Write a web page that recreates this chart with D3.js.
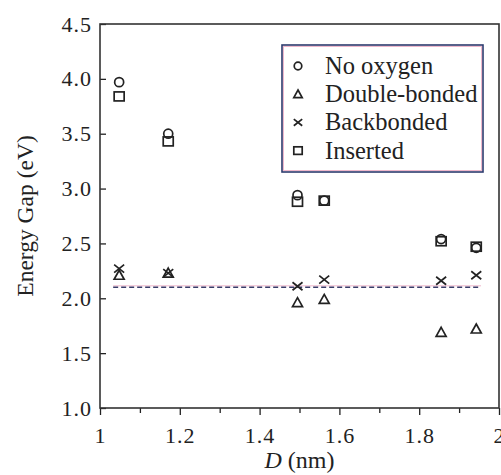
<!DOCTYPE html>
<html>
<head>
<meta charset="utf-8">
<script src="https://cdn.jsdelivr.net/npm/d3@7"></script>
<style>
  html, body { margin: 0; padding: 0; background: #fff; }
  svg { display: block; }
  text { font-family: "Liberation Serif", "Times New Roman", serif; fill: #222; }
</style>
</head>
<body>
<svg id="chart" width="501" height="475"></svg>
<script>
// Wire diameter (nm) of each nanowire
const diameters = [1.048, 1.171, 1.495, 1.562, 1.855, 1.943];
// Energy gap (eV) per oxygen configuration
const noOxygen     = [3.97, 3.50, 2.94, 2.89, 2.54, 2.46];
const doubleBonded = [2.21, 2.23, 1.96, 1.99, 1.69, 1.72];
const backbonded   = [2.27, 2.23, 2.11, 2.17, 2.16, 2.21];
const inserted     = [3.84, 3.43, 2.88, 2.89, 2.52, 2.47];
// Reference gap level (dashed line) and its extent
const refGap = 2.1;
const refSpan = [1.033, 1.955];

const xTicks = [1, 1.2, 1.4, 1.6, 1.8, 2];
const xMinorTicks = [1.1, 1.3, 1.5, 1.7, 1.9];
const yTicks = [1.0, 1.5, 2.0, 2.5, 3.0, 3.5, 4.0, 4.5];
const seriesNames = ["No oxygen", "Double-bonded", "Backbonded", "Inserted"];

const svg = d3.select("#chart");
const plot = { left: 100, right: 499, top: 24, bottom: 408 };

const x = d3.scaleLinear().domain([1, 2]).range([plot.left, plot.right]);
const y = d3.scaleLinear().domain([1, 4.5]).range([plot.bottom, plot.top]);

const ink = "#222";

function styleTickText(g) {
  g.selectAll("text")
    .attr("font-size", 22)
    .attr("font-family", "Liberation Serif")
    .attr("letter-spacing", 1)
    .attr("fill", ink);
}

// Minor x ticks
svg.append("g")
  .attr("transform", `translate(0,${plot.bottom})`)
  .call(d3.axisBottom(x).tickValues(xMinorTicks).tickSize(5).tickFormat(""))
  .call(g => g.select(".domain").remove())
  .call(g => g.selectAll("line").attr("stroke", ink).attr("stroke-width", 1.3));

// Major x axis
svg.append("g")
  .attr("transform", `translate(0,${plot.bottom})`)
  .call(d3.axisBottom(x).tickValues(xTicks).tickSizeInner(7).tickSizeOuter(0).tickPadding(12)
        .tickFormat(d => d3.format("~g")(d)))
  .call(g => g.select(".domain").remove())
  .call(g => g.selectAll("line").attr("stroke", ink).attr("stroke-width", 1.3))
  .call(styleTickText);

// Y axis, ticks pointing inward
svg.append("g")
  .attr("transform", `translate(${plot.left},0)`)
  .call(d3.axisLeft(y).tickValues(yTicks).tickSizeInner(-6).tickSizeOuter(0).tickPadding(8)
        .tickFormat(d3.format(".1f")))
  .call(g => g.select(".domain").remove())
  .call(g => g.selectAll("line").attr("stroke", ink).attr("stroke-width", 1.3))
  .call(styleTickText);

// Plot frame
svg.append("rect")
  .attr("x", plot.left).attr("y", plot.top)
  .attr("width", plot.right - plot.left).attr("height", plot.bottom - plot.top)
  .attr("fill", "none").attr("stroke", "#333").attr("stroke-width", 1.6);

// Reference gap line
svg.append("line")
  .attr("x1", x(refSpan[0])).attr("x2", x(refSpan[1]))
  .attr("y1", y(refGap) - 1.5).attr("y2", y(refGap) - 1.5)
  .attr("stroke", "#efb8cc").attr("stroke-width", 1);
svg.append("line")
  .attr("x1", x(refSpan[0])).attr("x2", x(refSpan[1]))
  .attr("y1", y(refGap)).attr("y2", y(refGap))
  .attr("stroke", "#3a3d6a").attr("stroke-width", 1.5)
  .attr("stroke-dasharray", "5,3");

// Marker drawing helper
function drawMarker(g, kind, cx, cy, s) {
  let el;
  if (kind === "circle") {
    el = g.append("circle").attr("cx", cx).attr("cy", cy).attr("r", s * 0.9);
  } else if (kind === "square") {
    el = g.append("rect").attr("x", cx - s).attr("y", cy - s * 0.9)
      .attr("width", 2 * s).attr("height", 1.8 * s);
  } else if (kind === "triangle") {
    el = g.append("path").attr("d",
      `M${cx},${cy - s}L${cx + s},${cy + s * 0.8}L${cx - s},${cy + s * 0.8}Z`);
  } else {
    el = g.append("path").attr("d",
      `M${cx - s},${cy - s * 0.8}L${cx + s},${cy + s * 0.8}M${cx - s},${cy + s * 0.8}L${cx + s},${cy - s * 0.8}`);
  }
  el.attr("fill", "none").attr("stroke", ink).attr("stroke-width", 1.7);
}

const series = [
  { values: noOxygen, kind: "circle" },
  { values: doubleBonded, kind: "triangle" },
  { values: backbonded, kind: "cross" },
  { values: inserted, kind: "square" }
];

const marks = svg.append("g");
series.forEach(s => {
  s.values.forEach((v, i) => drawMarker(marks, s.kind, x(diameters[i]), y(v), 5));
});

// Legend
const lg = svg.append("g");
lg.append("rect").attr("x", 283.5).attr("y", 46.5).attr("width", 198).attr("height", 124)
  .attr("fill", "none").attr("stroke", "#efb8cc").attr("stroke-width", 1);
lg.append("rect").attr("x", 282).attr("y", 45).attr("width", 201).attr("height", 127)
  .attr("fill", "none").attr("stroke", "#2e3b6e").attr("stroke-width", 1.6);
series.forEach((s, i) => {
  const cy = 66 + i * 28.2;
  drawMarker(lg, s.kind, 298, cy, 4.2);
  lg.append("text").attr("x", 325).attr("y", cy + 8)
    .attr("font-size", 24.5).text(seriesNames[i]);
});

// Axis titles
const xt = svg.append("text").attr("x", x(1.5)).attr("y", 468)
  .attr("text-anchor", "middle").attr("font-size", 24);
xt.append("tspan").attr("font-style", "italic").text("D");
xt.append("tspan").text(" (nm)");

svg.append("text")
  .attr("transform", `translate(33,${(plot.top + plot.bottom) / 2}) rotate(-90)`)
  .attr("text-anchor", "middle").attr("font-size", 23.5)
  .text("Energy Gap (eV)");
</script>
</body>
</html>
